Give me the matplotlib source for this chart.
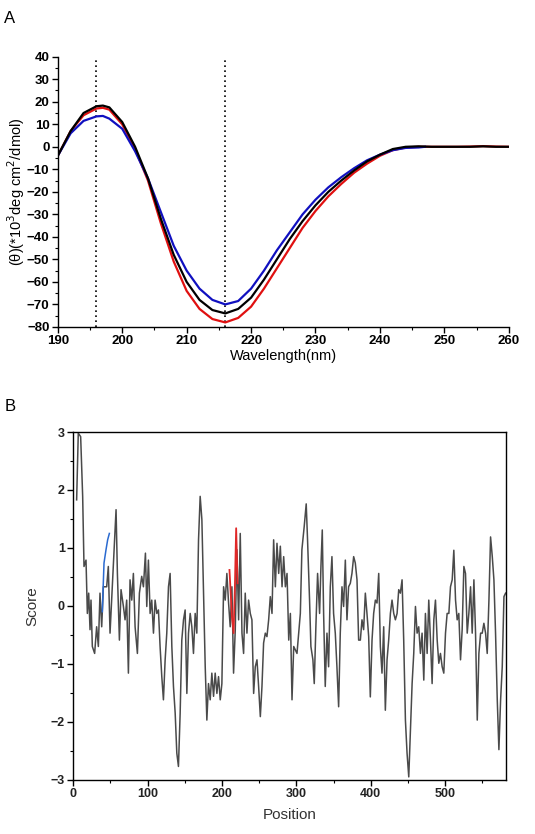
import matplotlib
matplotlib.use("Agg")
import matplotlib.pyplot as plt
from matplotlib.ticker import MultipleLocator

plt.rcParams['font.family'] = ['Liberation Sans', 'DejaVu Sans']

# ---- Panel A data (CD spectra) ----
wl = [190,192,194,196,197,198,200,202,204,206,208,210,212,214,216,218,220,222,224,226,228,230,232,234,236,238,240,242,244,246,248,250,252,254,256,258,260]
black = [-4,7,15,18,18.3,17.5,11,0,-14,-32,-48,-60,-68,-72.5,-74,-72,-67,-59,-50,-41,-33,-26,-20,-15,-10.5,-6.5,-3.5,-1,0,0.2,0,0,0,0,0.2,0,0]
red = [-4,7,14,17,17.3,16.5,10,-1,-15,-34,-51,-64,-72,-76.5,-78,-76,-71,-63,-54,-45,-36,-28.5,-22,-16.5,-11.5,-7.5,-4,-1.5,-0.3,0,0,0,0,0.1,0.3,0.1,0]
wl_blue = [190,192,194,196,197,198,200,202,204,206,208,210,212,214,216,218,220,222,224,226,228,230,232,234,236,238,240,242,244,246,247]
blue = [-4,6,11.5,13.5,13.7,12.5,8,-2,-14,-29,-44,-55,-63,-68,-70,-68.5,-63,-55,-46,-38,-30,-23.5,-18,-13.5,-9.5,-6,-3.5,-1.5,-0.5,-0.3,0]
ref_lines = [196, 216]

# ---- Panel B data (score profile) ----
pos = [4.5,6.7,9.9,12.6,14.4,17.1,18.9,20.7,22.5,23.8,25.6,28.7,31.4,33.7,35.9,38.2,40.4,44.9,47.1,49.4,51.6,53.9,57.5,59.3,62.0,64.2,67.4,69.6,71.8,74.1,76.3,78.6,80.8,83.1,86.2,88.9,92.0,94.3,97.0,98.8,101.0,103.3,105.5,107.8,110.0,112.3,114.5,116.7,119.0,121.2,123.5,125.7,128.0,130.2,132.5,134.7,137.0,139.2,141.4,143.7,145.9,148.2,150.4,152.7,154.9,157.2,159.4,161.6,163.9,166.1,168.4,170.6,172.9,175.1,177.4,179.6,181.8,184.1,186.3,188.6,190.8,193.1,195.3,197.6,199.8,202.1,204.3,206.5,208.8,211.0,213.3,215.5,217.8,220.0,222.3,224.5,226.8,229.0,231.2,233.5,235.7,238.0,240.2,242.5,244.7,247.0,249.2,251.5,253.7,255.9,258.2,260.4,262.7,264.9,267.2,269.4,271.7,273.9,276.2,278.4,280.7,282.9,285.2,287.4,289.7,291.9,294.1,296.4,300.8,305.3,307.4,310.5,313.2,315.0,317.7,319.5,322.2,324.0,326.2,328.5,331.2,333.0,334.8,336.6,338.8,341.1,343.3,345.6,347.8,350.0,352.3,354.5,356.8,359.0,361.3,363.5,365.8,368.0,370.2,372.5,374.7,377.0,379.2,381.5,383.7,386.0,388.2,390.4,392.7,394.9,397.2,399.4,401.7,403.9,406.2,408.4,410.7,412.9,415.1,417.4,419.6,421.9,424.1,426.4,428.6,430.9,433.1,435.4,437.6,439.8,442.1,444.3,446.6,448.8,451.1,453.3,455.6,457.8,460.1,462.3,464.5,466.8,469.0,471.3,473.5,475.8,478.0,480.3,482.5,484.8,487.0,489.3,491.5,493.7,496.0,498.2,500.5,502.7,505.0,507.2,509.5,511.7,514.0,516.2,518.4,520.7,522.9,525.2,527.4,529.7,531.9,534.2,536.4,538.7,540.9,543.2,545.4,547.7,549.9,552.1,554.4,556.6,558.9,561.1,563.4,565.6,567.8,570.1,572.3,574.6,576.8,579.1,581.3]
score = [1.83,2.98,2.92,1.89,0.68,0.79,-0.13,0.22,-0.41,0.10,-0.70,-0.82,-0.36,-0.70,0.22,-0.36,0.33,0.33,0.68,-0.47,0.10,0.68,1.66,0.56,-0.59,0.28,-0.01,-0.24,0.10,-1.16,0.45,0.10,0.56,-0.36,-0.82,0.22,0.51,0.33,0.91,-0.01,0.79,-0.13,0.10,-0.47,0.10,-0.13,-0.07,-0.70,-1.22,-1.62,-0.93,-0.47,0.33,0.56,-0.70,-1.39,-1.85,-2.54,-2.77,-1.85,-0.59,-0.24,-0.07,-1.51,-0.47,-0.13,-0.36,-0.82,-0.13,-0.47,1.14,1.89,1.49,0.28,-1.05,-1.97,-1.34,-1.62,-1.16,-1.56,-1.16,-1.51,-1.22,-1.62,-1.34,0.33,0.10,0.56,0.05,-0.36,0.33,-1.16,-0.41,0.97,-0.24,1.25,-0.47,-0.82,0.22,-0.47,0.10,-0.13,-0.24,-1.51,-1.05,-0.93,-1.39,-1.91,-1.39,-0.64,-0.47,-0.53,-0.24,0.16,-0.13,1.14,0.33,1.08,0.56,1.03,0.33,0.85,0.33,0.56,-0.59,-0.13,-1.62,-0.70,-0.82,-0.13,0.97,1.37,1.76,1.14,0.10,-0.70,-0.93,-1.34,-0.36,0.56,-0.13,0.68,1.31,-0.13,-1.39,-0.47,-1.05,0.33,0.85,-0.13,-0.47,-1.05,-1.74,-0.47,0.33,-0.01,0.79,-0.24,0.33,0.39,0.56,0.85,0.74,0.45,-0.59,-0.59,-0.24,-0.41,0.22,-0.13,-0.53,-1.57,-0.59,-0.13,0.10,0.05,0.56,-0.70,-1.16,-0.36,-1.80,-0.93,-0.59,-0.13,0.10,-0.13,-0.24,-0.13,0.28,0.22,0.45,-0.59,-1.97,-2.54,-2.95,-2.14,-1.34,-0.82,-0.01,-0.47,-0.36,-0.82,-0.47,-1.28,-0.13,-0.82,0.10,-0.59,-1.34,-0.24,0.10,-0.59,-0.99,-0.82,-1.05,-1.16,-0.47,-0.13,-0.13,0.33,0.45,0.96,0.10,-0.24,-0.13,-0.93,-0.41,0.68,0.56,-0.47,-0.13,0.33,-0.47,0.45,-0.47,-1.97,-0.82,-0.47,-0.47,-0.30,-0.47,-0.82,0.10,1.19,0.85,0.45,-0.47,-1.62,-2.48,-1.62,-1.05,0.16,0.22]
blue_pos = [39.0,41.3,44.0,46.2,48.5]
blue_score = [-0.10,0.74,0.97,1.14,1.25]
red_pos = [210.0,213.3,215.5,217.3,219.0,220.9]
red_score = [0.62,-0.18,-0.47,0.33,1.34,0.39]

fig = plt.figure(figsize=(5.35, 8.34), dpi=100)

# Panel A
axA = fig.add_axes([0.108, 0.608, 0.843, 0.324])
for x in ref_lines:
    axA.plot([x, x], [-80, 40], color='black', ls=(0, (1, 2)), lw=1.2)
axA.plot(wl, red, color='#e01010', lw=1.6)
axA.plot(wl_blue, blue, color='#1010c0', lw=1.6)
axA.plot(wl, black, color='black', lw=1.6)
axA.set_xlim(190, 260)
axA.set_ylim(-80, 40)
axA.xaxis.set_major_locator(MultipleLocator(10))
axA.xaxis.set_minor_locator(MultipleLocator(5))
axA.yaxis.set_major_locator(MultipleLocator(10))
axA.yaxis.set_minor_locator(MultipleLocator(5))
for s in ['top', 'right']:
    axA.spines[s].set_visible(False)
for s in ['left', 'bottom']:
    axA.spines[s].set_linewidth(1.0)
axA.tick_params(which='major', length=4, width=1, labelsize=9.5, pad=2)
axA.tick_params(which='minor', length=2.5, width=0.8)
for lab in axA.get_xticklabels() + axA.get_yticklabels():
    lab.set_fontweight('bold')
axA.set_xlabel('Wavelength(nm)', fontsize=10.5, labelpad=1)
axA.set_ylabel('(θ)(*10$^3$deg cm$^2$/dmol)', fontsize=10.5, labelpad=0)
fig.text(0.008, 0.978, 'A', fontsize=12, va='center')

# Panel B
axB = fig.add_axes([0.137, 0.065, 0.809, 0.417])
axB.plot(pos, score, color='#4a4a4a', lw=1.1)
axB.plot(blue_pos, blue_score, color='#2a6ad0', lw=1.1)
axB.plot(red_pos, red_score, color='#e02828', lw=1.3)
axB.set_xlim(0, 582)
axB.set_ylim(-3, 3)
axB.xaxis.set_major_locator(MultipleLocator(100))
axB.xaxis.set_minor_locator(MultipleLocator(50))
axB.yaxis.set_major_locator(MultipleLocator(1))
axB.yaxis.set_minor_locator(MultipleLocator(0.5))
for s in axB.spines.values():
    s.set_linewidth(1.0)
axB.tick_params(which='major', length=4, width=1, labelsize=9, pad=2, labelcolor='#222222')
axB.tick_params(which='minor', length=2.5, width=0.8)
for lab in axB.get_xticklabels() + axB.get_yticklabels():
    lab.set_fontweight('bold')
axB.set_xlabel('Position', fontsize=11, labelpad=6, color='#333333')
axB.set_ylabel('Score', fontsize=11, labelpad=8, color='#333333')
fig.text(0.008, 0.513, 'B', fontsize=12, va='center')

fig.savefig('out.png', dpi=100)
